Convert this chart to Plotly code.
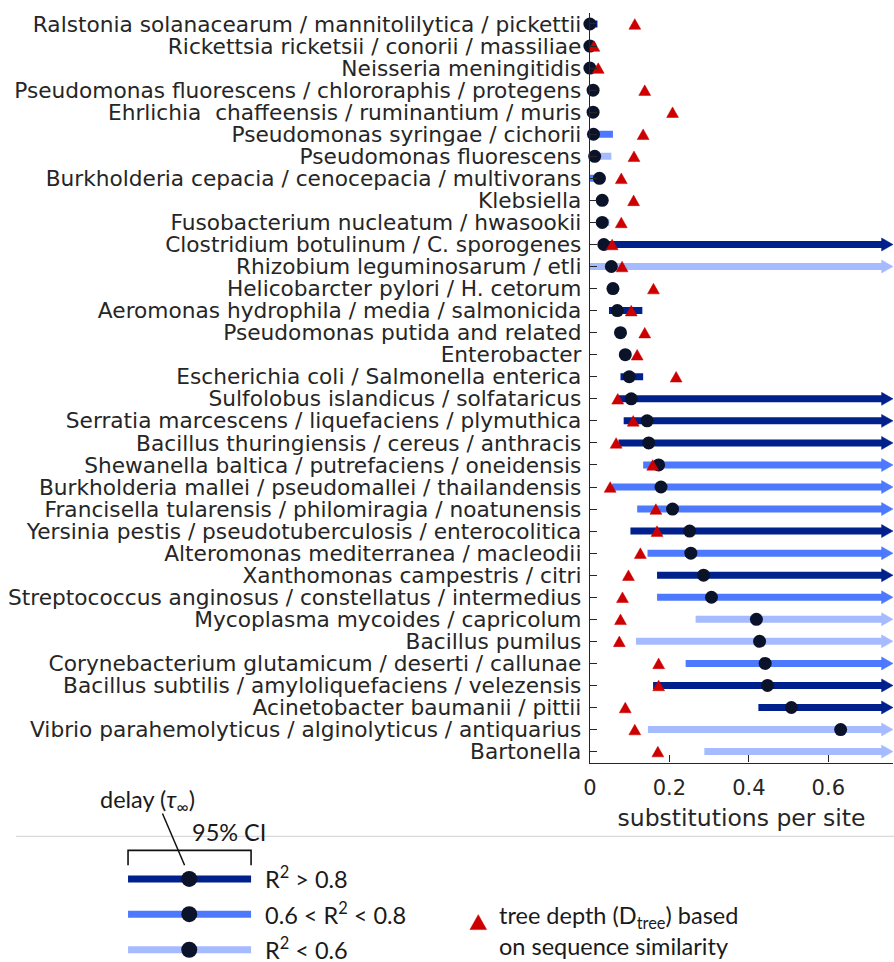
import numpy as np
import plotly.graph_objects as go

# ---------------------------------------------------------------- data
labels = [
    "Ralstonia solanacearum / mannitolilytica / pickettii",
    "Rickettsia ricketsii / conorii / massiliae",
    "Neisseria meningitidis",
    "Pseudomonas fluorescens / chlororaphis / protegens",
    "Ehrlichia  chaffeensis / ruminantium / muris",
    "Pseudomonas syringae / cichorii",
    "Pseudomonas fluorescens",
    "Burkholderia cepacia / cenocepacia / multivorans",
    "Klebsiella",
    "Fusobacterium nucleatum / hwasookii",
    "Clostridium botulinum / C. sporogenes",
    "Rhizobium leguminosarum / etli",
    "Helicobarcter pylori / H. cetorum",
    "Aeromonas hydrophila / media / salmonicida",
    "Pseudomonas putida and related",
    "Enterobacter",
    "Escherichia coli / Salmonella enterica",
    "Sulfolobus islandicus / solfataricus",
    "Serratia marcescens / liquefaciens / plymuthica",
    "Bacillus thuringiensis / cereus / anthracis",
    "Shewanella baltica / putrefaciens / oneidensis",
    "Burkholderia mallei / pseudomallei / thailandensis",
    "Francisella tularensis / philomiragia / noatunensis",
    "Yersinia pestis / pseudotuberculosis / enterocolitica",
    "Alteromonas mediterranea / macleodii",
    "Xanthomonas campestris / citri",
    "Streptococcus anginosus / constellatus / intermedius",
    "Mycoplasma mycoides / capricolum",
    "Bacillus pumilus",
    "Corynebacterium glutamicum / deserti / callunae",
    "Bacillus subtilis / amyloliquefaciens / velezensis",
    "Acinetobacter baumanii / pittii",
    "Vibrio parahemolyticus / alginolyticus / antiquarius",
    "Bartonella",
]

# delay (tau_inf), substitutions per site; None = beyond the axis
delay = [0.000, 0.000, 0.000, 0.008, 0.008, 0.009, 0.012, 0.024, 0.031,
         0.031, 0.035, 0.054, 0.058, 0.069, 0.077, 0.089, 0.099, 0.104,
         0.144, 0.148, 0.173, 0.179, 0.208, 0.251, 0.254, 0.286, 0.306,
         0.419, 0.427, 0.441, 0.447, 0.507, 0.631, None]

# tree depth (D_tree) from sequence similarity
tree_depth = [0.113, 0.010, 0.021, 0.138, 0.208, 0.134, 0.111, 0.079, 0.110,
              0.079, 0.056, 0.081, 0.160, 0.104, 0.138, 0.119, 0.217, 0.070,
              0.109, 0.066, 0.158, 0.051, 0.166, 0.169, 0.127, 0.097, 0.082,
              0.077, 0.074, 0.173, 0.173, 0.089, 0.113, 0.171]

# 95% CI of the delay; inf = open upper bound, None = no interval drawn
INF = np.inf
ci_low = [0.000, None, None, None, None, 0.000, 0.005, 0.000, None,
          0.025, 0.040, 0.000, None, 0.048, None, 0.077, 0.077, 0.072,
          0.085, 0.072, 0.134, 0.056, 0.119, 0.102, 0.145, 0.169, 0.169,
          0.266, 0.116, 0.241, 0.159, 0.424, 0.146, 0.288]
ci_high = [0.019, None, None, None, None, 0.058, 0.054, 0.038, None,
           0.049, INF, INF, None, 0.132, None, 0.102, 0.134, INF,
           INF, INF, INF, INF, INF, INF, INF, INF, INF,
           INF, INF, INF, INF, INF, INF, INF]

# goodness of fit class (R^2)
fit = ["high", None, None, None, None, "mid", "low", "mid", None,
       "low", "high", "low", None, "high", None, "mid", "high", "high",
       "high", "high", "mid", "mid", "mid", "high", "mid", "high", "mid",
       "low", "low", "mid", "high", "high", "low", "low"]

x_ticks = [0, 0.2, 0.4, 0.6]
x_tick_text = ["0", "0.2", "0.4", "0.6"]

fit_order = ["high", "mid", "low"]
fit_names = ["R<sup>2</sup> &gt; 0.8",
             "0.6 &lt; R<sup>2</sup> &lt; 0.8",
             "R<sup>2</sup> &lt; 0.6"]

# ---------------------------------------------------------------- style
W, H = 894, 962
PX_LEFT, PX_RIGHT, PX_TOP, PX_BOTTOM = 587.5, 893.0, 12.0, 764.0
PX_PER_UNIT = 400.5
X_MAX = (PX_RIGHT - PX_LEFT) / PX_PER_UNIT
n = len(labels)
ROW_PX = (PX_BOTTOM - PX_TOP) / n
DX = 1.0 / PX_PER_UNIT          # one pixel in x data units
DY = 1.0 / ROW_PX               # one pixel in row units

COLORS = {"high": "#00208c", "mid": "#4d79ff", "low": "#a6bbff"}
DOT = "#0b132b"
RED = "#cc0000"
AXIS = "#262626"
LABEL_FONT = "DejaVu Sans"
KEY_FONT = "Lato"
KEY_SIZE = 23.5
KEY_COLOR = "#1a1a1a"
BAR_W = 7

fig = go.Figure()

# ---------------------------------------------------------------- CI bars
for cls in fit_order:
    xs, ys, ax, ay = [], [], [], []
    for i in range(n):
        if fit[i] != cls or ci_low[i] is None:
            continue
        hi = ci_high[i]
        if np.isinf(hi):
            xs += [ci_low[i], X_MAX - 9 * DX, None]
            ys += [i, i, None]
            base = X_MAX - 11.5 * DX
            h = 6.5 * DY
            ax += [base, X_MAX, base, base, None]
            ay += [i - h, i, i + h, i - h, None]
        else:
            xs += [ci_low[i], hi, None]
            ys += [i, i, None]
    fig.add_trace(go.Scatter(x=xs, y=ys, mode="lines",
                             line=dict(color=COLORS[cls], width=BAR_W),
                             hoverinfo="skip", showlegend=False))
    if ax:
        fig.add_trace(go.Scatter(x=ax, y=ay, mode="lines", fill="toself",
                                 fillcolor=COLORS[cls],
                                 line=dict(color=COLORS[cls], width=0.5),
                                 hoverinfo="skip", showlegend=False))

# ---------------------------------------------------------------- delay dots
dx_pts = [d for d in delay if d is not None]
dy_pts = [i for i, d in enumerate(delay) if d is not None]
fig.add_trace(go.Scatter(x=dx_pts, y=dy_pts, mode="markers",
                         marker=dict(color=DOT, size=13, line=dict(width=0)),
                         cliponaxis=False, showlegend=False))

# ---------------------------------------------------------------- tree depth
tx, ty = [], []
half_w, half_h = 6.0 * DX, 5.3 * DY
for i, t in enumerate(tree_depth):
    tx += [t - half_w, t, t + half_w, t - half_w, None]
    ty += [i + half_h, i - half_h, i + half_h, i + half_h, None]
fig.add_trace(go.Scatter(x=tx, y=ty, mode="lines", fill="toself",
                         fillcolor=RED, line=dict(color=RED, width=0.5),
                         hoverinfo="skip", showlegend=False))

# ---------------------------------------------------------------- key (pixel axes)
KX0, KX1, KDOT = 122.0, 246.0, 183.7
key_rows = [880.7, 916.0, 951.7]


def key_text(x, y, text, **kw):
    fig.add_annotation(x=x, y=y, xref="x2", yref="y2", text=text,
                       showarrow=False, xanchor="left", yanchor="middle",
                       borderpad=0, align="left",
                       font=dict(family=KEY_FONT, size=KEY_SIZE, color=KEY_COLOR),
                       **kw)


for cls, yk, name in zip(fit_order, key_rows, fit_names):
    fig.add_trace(go.Scatter(x=[KX0, KX1], y=[yk, yk], mode="lines",
                             line=dict(color=COLORS[cls], width=BAR_W),
                             xaxis="x2", yaxis="y2", hoverinfo="skip",
                             showlegend=False))
    fig.add_trace(go.Scatter(x=[KDOT], y=[yk], mode="markers",
                             marker=dict(color=DOT, size=16),
                             xaxis="x2", yaxis="y2", hoverinfo="skip",
                             showlegend=False))
    key_text(259, yk - 1, name)

# red triangle key
fig.add_trace(go.Scatter(x=[466.6, 475.0, 483.4, 466.6],
                         y=[931.5, 916.5, 931.5, 931.5],
                         mode="lines", fill="toself", fillcolor=RED,
                         line=dict(color=RED, width=0.5),
                         xaxis="x2", yaxis="y2", hoverinfo="skip",
                         showlegend=False))
key_text(495, 932.5, "tree depth (D<sub>tree</sub>) based<br>on sequence similarity")
key_text(93, 802, "delay (<i>τ</i><sub>∞</sub>)")
key_text(185, 834, "95% CI")

shapes = [
    dict(type="line", xref="x2", yref="y2", x0=9, x1=894, y0=838, y1=838,
         line=dict(color="#d9d9d9", width=1.2), layer="below"),
    dict(type="line", xref="x2", yref="y2", x0=156.7, x1=179, y0=815, y1=867,
         line=dict(color="#111111", width=1.5)),
    dict(type="path", xref="x2", yref="y2",
         path=f"M{KX0},867 L{KX0},852 L{KX1},852 L{KX1},867",
         line=dict(color="#111111", width=1.6)),
]

# ---------------------------------------------------------------- layout
fig.update_layout(
    width=W, height=H,
    margin=dict(l=0, r=0, t=0, b=0),
    paper_bgcolor="white", plot_bgcolor="rgba(0,0,0,0)",
    showlegend=False, shapes=shapes,
    xaxis=dict(domain=[PX_LEFT / W, PX_RIGHT / W], range=[0, X_MAX],
               tickvals=x_ticks, ticktext=x_tick_text,
               ticks="inside", ticklen=7, tickwidth=1.3, tickcolor=AXIS,
               showline=True, linecolor=AXIS, linewidth=1.3,
               showgrid=False, zeroline=False,
               ticklabelstandoff=6,
               tickfont=dict(family=LABEL_FONT, size=21, color=AXIS),
               title=dict(text="substitutions per site", standoff=10,
                          font=dict(family=LABEL_FONT, size=23.5, color=AXIS)),
               anchor="y"),
    yaxis=dict(domain=[1 - PX_BOTTOM / H, 1 - PX_TOP / H],
               range=[n - 0.5, -0.5],
               tickvals=list(range(n)), ticktext=labels,
               ticks="inside", ticklen=7, tickwidth=1.3, tickcolor=AXIS,
               showline=True, linecolor=AXIS, linewidth=1.3,
               showgrid=False, zeroline=False,
               ticklabelstandoff=3,
               tickfont=dict(family=LABEL_FONT, size=21.7, color=AXIS),
               anchor="x"),
    xaxis2=dict(domain=[0, 1], range=[0, W], visible=False, anchor="y2",
                fixedrange=True),
    yaxis2=dict(domain=[0, 1], range=[H, 0], visible=False, anchor="x2",
                fixedrange=True),
)

fig.write_html("out.html")
